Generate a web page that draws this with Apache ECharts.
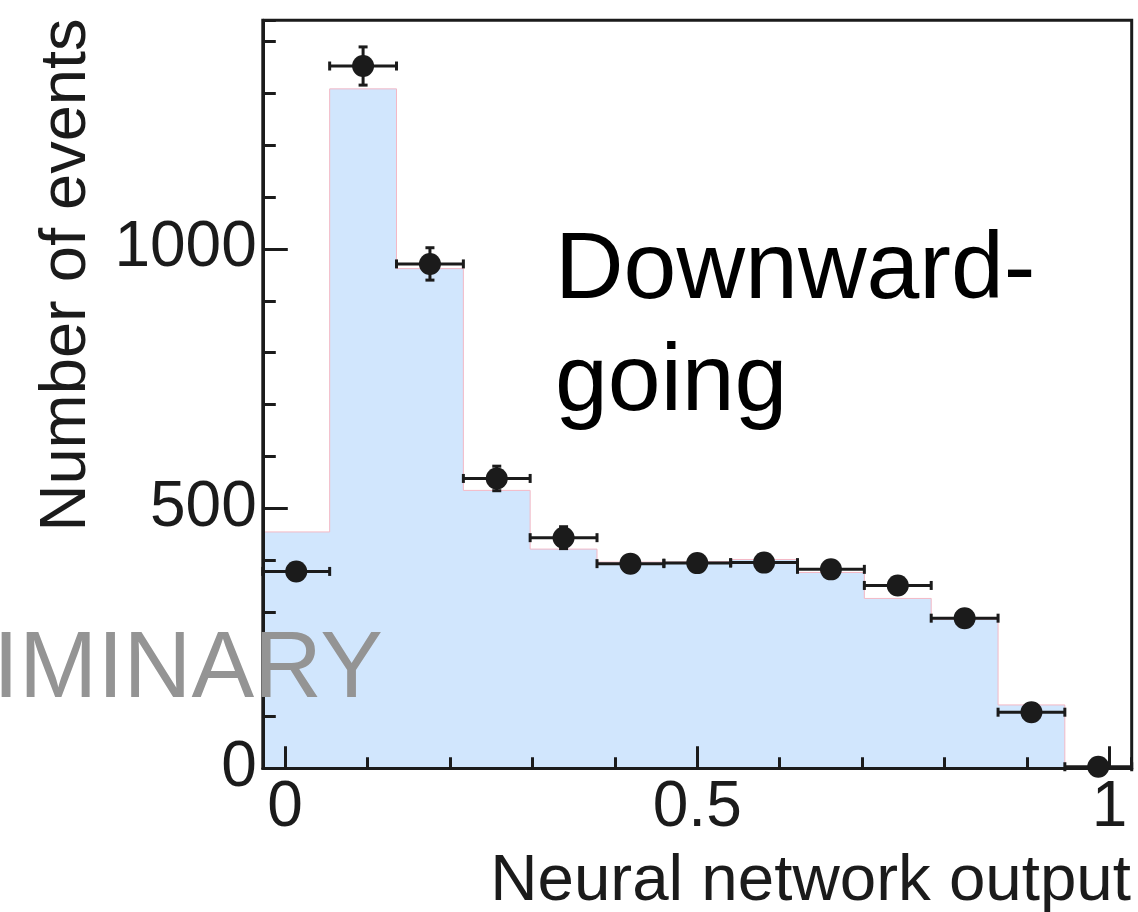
<!DOCTYPE html>
<html>
<head>
<meta charset="utf-8">
<script src="https://cdn.jsdelivr.net/npm/echarts@6/dist/echarts.min.js"></script>
<style>
  html, body { margin: 0; padding: 0; background: #ffffff; }
  #chart { width: 1138px; height: 912px; }
</style>
</head>
<body>
<div id="chart"></div>
<script>
// Histogram binning of the neural network output (13 equal bins)
const binEdges = [-0.027, 0.0541, 0.1352, 0.2163, 0.2973, 0.3784, 0.4595,
                  0.5405, 0.6216, 0.7027, 0.7838, 0.8649, 0.9459, 1.027];
// Expected event counts per bin (filled histogram)
const expectedCounts = [455, 1308, 962, 535, 422, 397, 398, 402, 377, 327, 287, 122, 0];
// Observed event counts per bin (points with Poisson errors)
const observedCounts = [379, 1352, 971, 558, 444, 394, 395, 396, 383, 352, 289, 108, 3];
// Axis ranges
const xRange = [-0.027, 1.027];
const yRange = [0, 1440];

const INK = '#1b1b1b';
const FONT = '"Liberation Sans", Arial, Helvetica, sans-serif';
const MARKER_R = 11;
const CAP = 4.5;

// Step outline of the expected histogram: one point per bin edge
const stepData = binEdges.map((e, i) => [e, i < expectedCounts.length ? expectedCounts[i] : expectedCounts[expectedCounts.length - 1]]);

// Observed points: [bin centre, count, bin low edge, bin high edge]
const pointData = observedCounts.map((v, i) => [
  (binEdges[i] + binEdges[i + 1]) / 2, v, binEdges[i], binEdges[i + 1]
]);

const chart = echarts.init(document.getElementById('chart'), null, { renderer: 'canvas' });

const baseAxis = {
  type: 'value',
  z: 6,
  splitLine: { show: false },
  axisLine: { onZero: false }
};

chart.setOption({
  animation: false,
  backgroundColor: '#ffffff',
  grid: {
    left: 262.8, right: 6.3, top: 20.3, bottom: 143.7,
    show: true, borderColor: INK, borderWidth: 3,
    backgroundColor: 'transparent',
    containLabel: false, outerBoundsMode: 'none'
  },
  xAxis: [
    Object.assign({}, baseAxis, {
      position: 'bottom',
      min: xRange[0], max: xRange[1],
      minInterval: 0.5, maxInterval: 0.5,
      axisLine: { show: true, onZero: false, lineStyle: { color: INK, width: 3 } },
      axisTick: { show: true, inside: true, length: 22, lineStyle: { color: INK, width: 3 } },
      axisLabel: {
        show: true, margin: 8, showMinLabel: false, showMaxLabel: false,
        color: INK, fontSize: 64, fontFamily: FONT,
        formatter: v => String(Math.abs(v) < 1e-9 ? 0 : v)
      }
    }),
    Object.assign({}, baseAxis, {
      position: 'bottom',
      min: xRange[0], max: xRange[1],
      minInterval: 0.1, maxInterval: 0.1,
      axisLine: { show: false, onZero: false },
      axisTick: { show: true, inside: true, length: 11, lineStyle: { color: INK, width: 3 } },
      axisLabel: { show: false }
    })
  ],
  yAxis: [
    Object.assign({}, baseAxis, {
      position: 'left',
      min: yRange[0], max: yRange[1], interval: 500,
      axisLine: { show: true, onZero: false, lineStyle: { color: INK, width: 3 } },
      axisTick: { show: true, inside: true, length: 25, lineStyle: { color: INK, width: 3 } },
      axisLabel: {
        show: true, margin: 6, showMaxLabel: false,
        color: INK, fontSize: 64, fontFamily: FONT,
        formatter: v => String(v)
      }
    }),
    Object.assign({}, baseAxis, {
      position: 'left',
      min: yRange[0], max: yRange[1], interval: 100,
      axisLine: { show: false, onZero: false },
      axisTick: { show: true, inside: true, length: 13, lineStyle: { color: INK, width: 3 } },
      axisLabel: { show: false }
    })
  ],
  series: [
    {
      name: 'Expected',
      type: 'line',
      xAxisIndex: 0, yAxisIndex: 0,
      step: 'end',
      data: stepData,
      showSymbol: false,
      symbol: 'none',
      silent: true,
      z: 2,
      lineStyle: { color: '#f3b8c5', width: 1 },
      areaStyle: { color: '#d1e6fd', opacity: 1, origin: 'start' }
    },
    {
      name: 'Observed',
      type: 'custom',
      xAxisIndex: 0, yAxisIndex: 0,
      data: pointData,
      encode: { x: 0, y: 1 },
      z: 4,
      silent: true,
      renderItem: function (params, api) {
        const x = api.value(0), y = api.value(1);
        const xl = api.value(2), xr = api.value(3);
        const err = Math.sqrt(y);
        const c = api.coord([x, y]);
        const pl = api.coord([xl, y])[0];
        const pr = api.coord([xr, y])[0];
        const pt = api.coord([x, y + err])[1];
        const pb = api.coord([x, y - err])[1];
        const st = { stroke: INK, lineWidth: 3, fill: null };
        const line = (x1, y1, x2, y2) => ({ type: 'line', shape: { x1, y1, x2, y2 }, style: st });
        const children = [
          line(pl, c[1], pr, c[1]),
          line(pl, c[1] - CAP, pl, c[1] + CAP),
          line(pr, c[1] - CAP, pr, c[1] + CAP)
        ];
        if (pb - c[1] > 10.5) {
          children.push(line(c[0], pt, c[0], pb));
          children.push(line(c[0] - CAP, pt, c[0] + CAP, pt));
          children.push(line(c[0] - CAP, pb, c[0] + CAP, pb));
        }
        children.push({ type: 'circle', shape: { cx: c[0], cy: c[1], r: MARKER_R }, style: { fill: INK } });
        return { type: 'group', children: children };
      }
    }
  ],
  graphic: [
    {
      type: 'text', x: 1131, y: 882, z: 10, silent: true,
      style: { text: 'Neural network output', fill: INK, fontSize: 65.5, fontFamily: FONT,
               align: 'right', verticalAlign: 'middle' }
    },
    {
      type: 'text', x: 67, y: 275, rotation: Math.PI / 2, z: 10, silent: true,
      style: { text: 'Number of events', fill: INK, fontSize: 65, fontFamily: FONT,
               align: 'center', verticalAlign: 'middle' }
    },
    {
      type: 'text', x: 555, y: 216, z: 10, silent: true,
      style: { text: 'Downward-\ngoing', fill: '#000000', fontSize: 95, lineHeight: 112,
               fontFamily: FONT, align: 'left', verticalAlign: 'top' }
    },
    {
      type: 'text', x: -7, y: 671, z: 10, silent: true,
      style: { text: 'IMINARY', fill: '#949494', fontSize: 94, fontFamily: FONT,
               align: 'left', verticalAlign: 'middle' }
    }
  ]
});
</script>
</body>
</html>
